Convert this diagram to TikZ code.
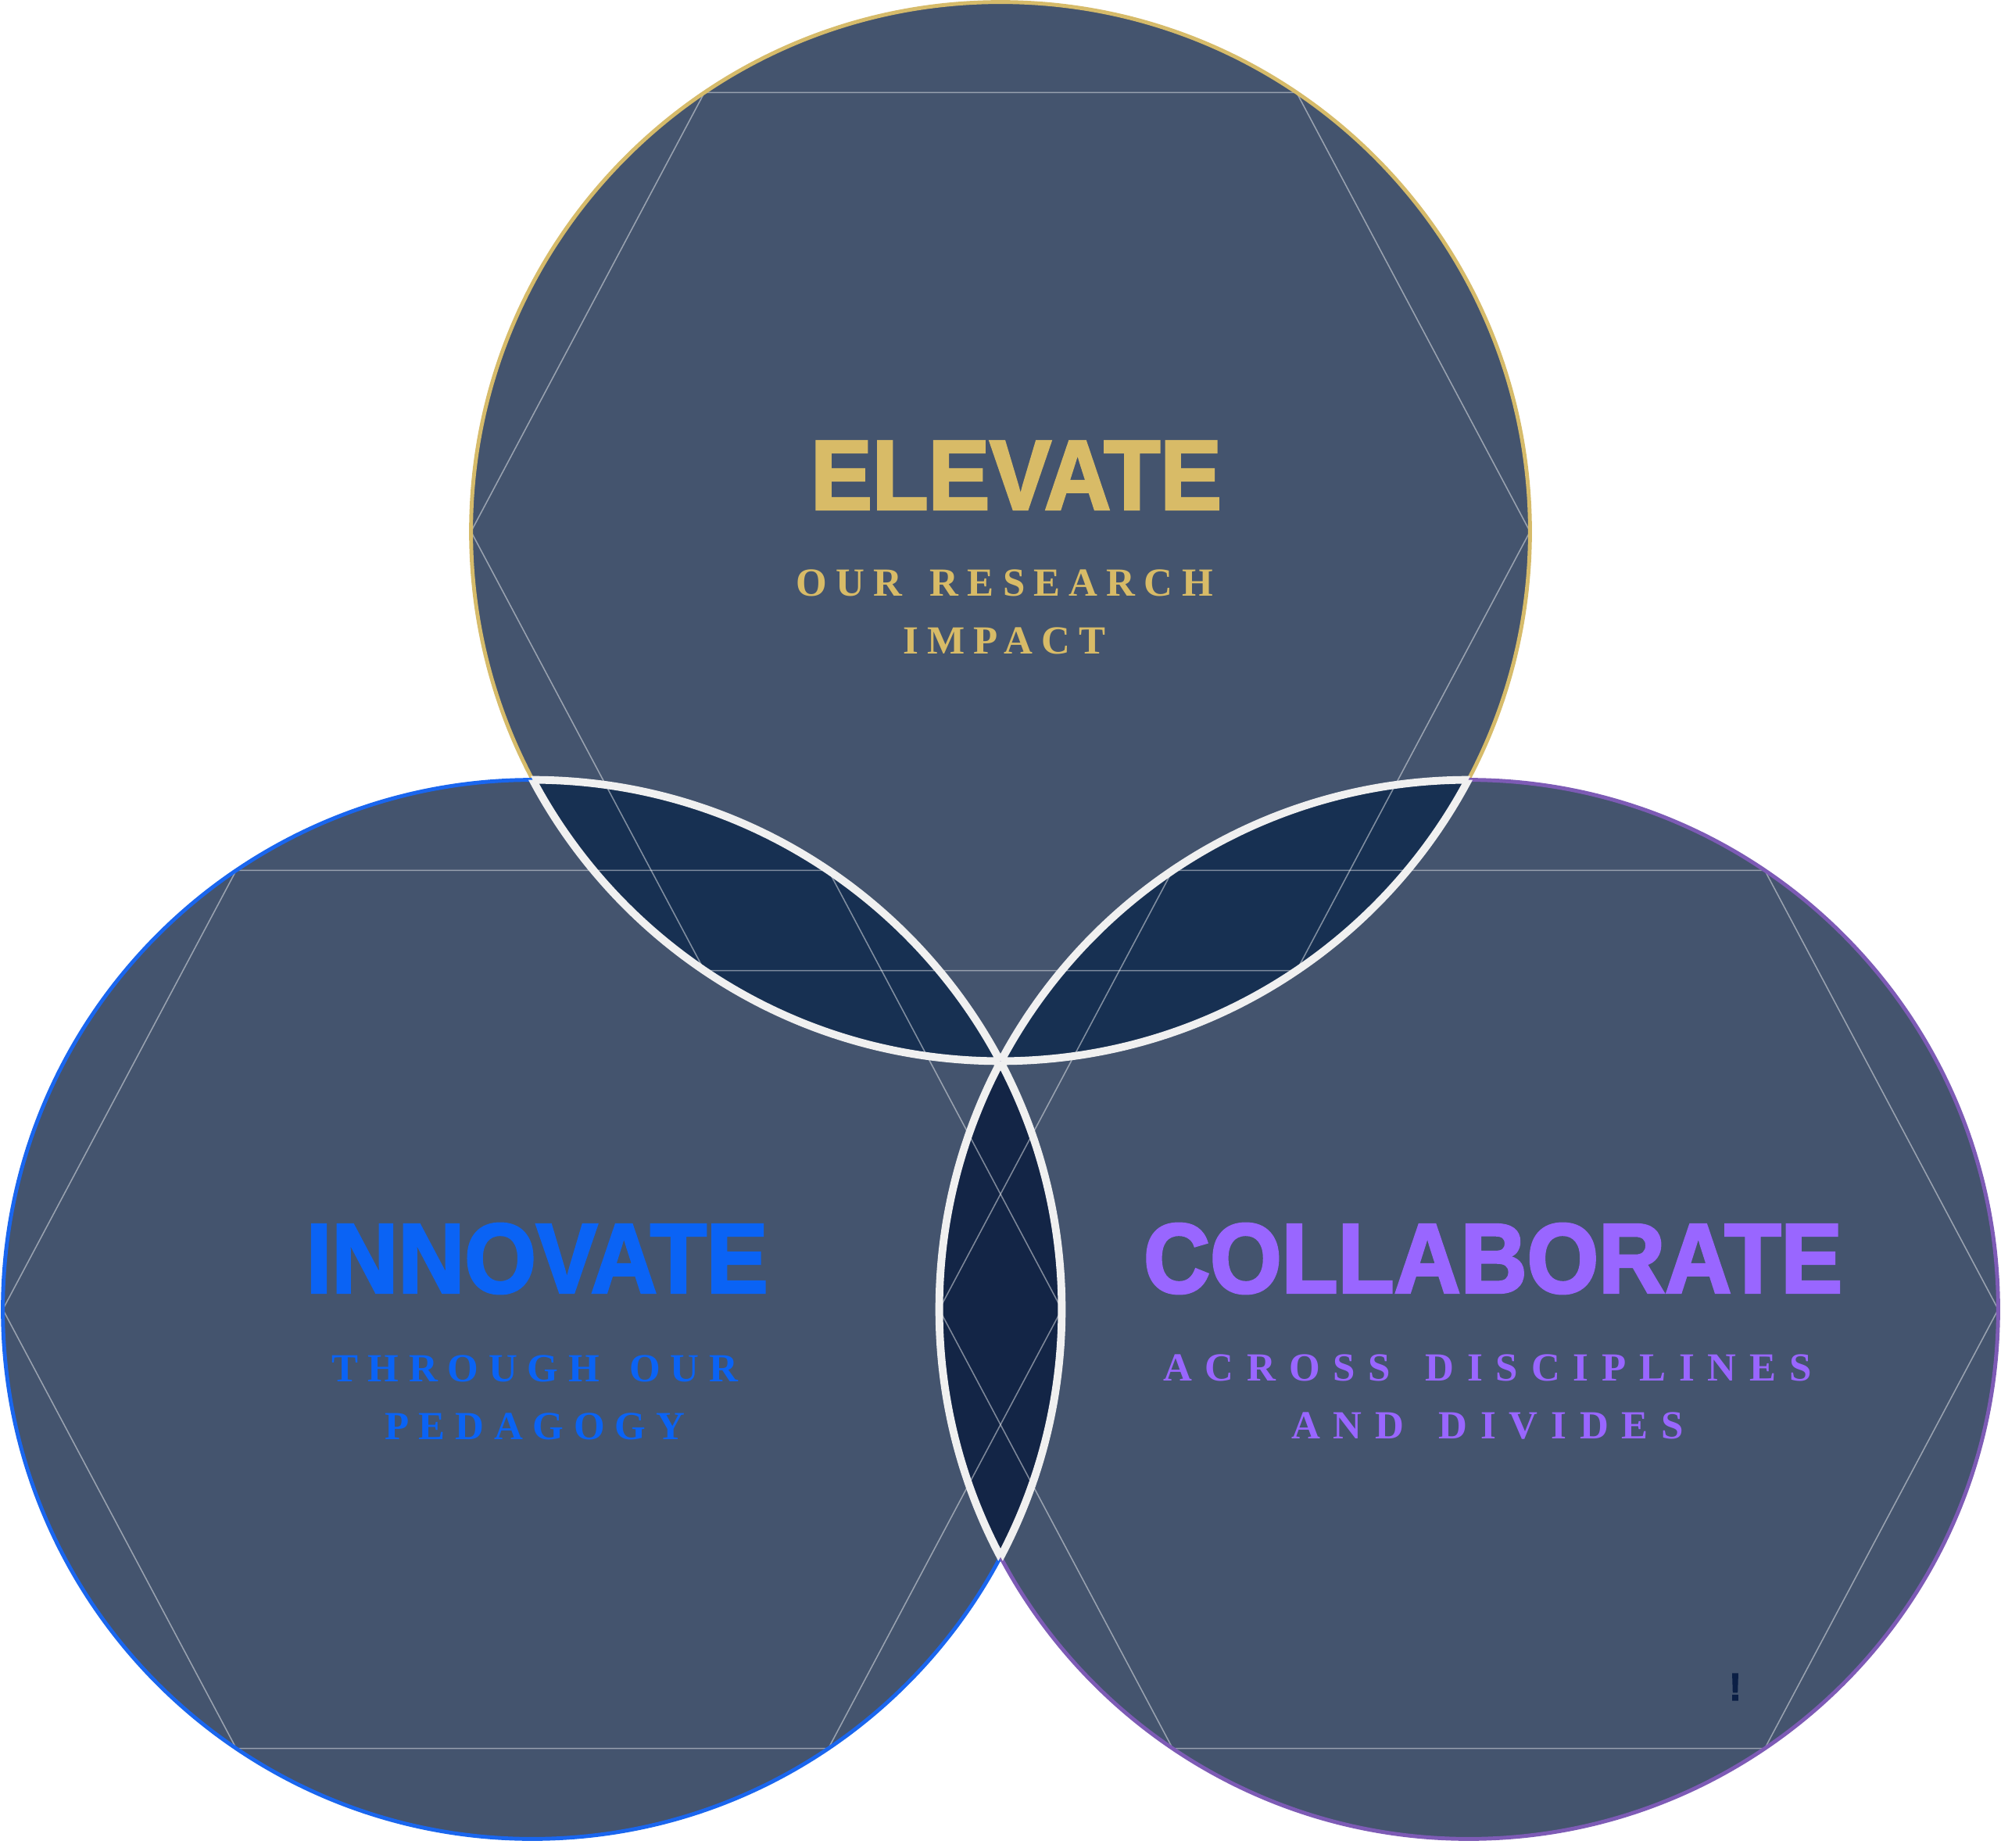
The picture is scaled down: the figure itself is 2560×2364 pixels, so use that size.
\documentclass[tikz,border=0pt]{standalone}
\usepackage{fontspec}
\usetikzlibrary{calc}

\newfontfamily\headfont{Liberation Sans Bold}[FakeStretch=0.93,FakeBold=2.6]
\newfontfamily\subfont{Liberation Serif Bold}[WordSpace=1.5]

\definecolor{slate}{HTML}{44546E}
\definecolor{lensblue}{HTML}{173052}
\definecolor{coreblue}{HTML}{132546}
\definecolor{seamwhite}{HTML}{F0F0F0}
\definecolor{goldrim}{HTML}{D6BB6A}
\definecolor{bluerim}{HTML}{1A66EE}
\definecolor{purplerim}{HTML}{7D5BB5}
\definecolor{goldtext}{HTML}{D8BB67}
\definecolor{bluetext}{HTML}{0A63F5}
\definecolor{purpletext}{HTML}{9966FF}
\definecolor{inkmark}{HTML}{0B1F45}

\def\rad{6.77cm}

\begin{document}
\begin{tikzpicture}[x=0.01cm,y=-0.01cm,
  hexline/.style={white,opacity=0.45,line width=0.45pt},
  rim/.style={draw=#1,line width=1.4pt},
  seam/.style={draw=seamwhite,line width=2.8pt},
  title/.style={font=\headfont\fontsize{36}{36}\selectfont,inner sep=0pt,anchor=center},
  tagline/.style={font=\subfont\addfontfeature{LetterSpace=#1}\fontsize{14.5}{21}\selectfont,align=center,inner sep=0pt,anchor=center}]
  \useasboundingbox (0,0) rectangle (2560,2364);

  \coordinate (T) at (1280,680);
  \coordinate (L) at (681,1675);
  \coordinate (R) at (1879,1675);

  \foreach \c in {T,L,R}
    \fill[slate] (\c) circle (\rad);

  \begin{scope}
    \clip (T) circle (\rad);
    \fill[lensblue] (L) circle (\rad);
    \fill[lensblue] (R) circle (\rad);
  \end{scope}
  \begin{scope}
    \clip (L) circle (\rad);
    \fill[coreblue] (R) circle (\rad);
  \end{scope}

  \foreach \c in {T,L,R}
    \draw[hexline] ($(\c)+(0:\rad)$) -- ($(\c)+(56:\rad)$) -- ($(\c)+(124:\rad)$)
      -- ($(\c)+(180:\rad)$) -- ($(\c)+(236:\rad)$) -- ($(\c)+(304:\rad)$) -- cycle;

  \draw[rim=goldrim] (T) circle (\rad);
  \draw[rim=bluerim] (L) circle (\rad);
  \draw[rim=purplerim] (R) circle (\rad);

  % white seams where the circles overlap
  \begin{scope}
    \clip (T) circle (\rad);
    \draw[seam] (L) circle (\rad) (R) circle (\rad);
  \end{scope}
  \begin{scope}
    \clip (L) circle (\rad);
    \draw[seam] (T) circle (\rad) (R) circle (\rad);
  \end{scope}
  \begin{scope}
    \clip (R) circle (\rad);
    \draw[seam] (T) circle (\rad) (L) circle (\rad);
  \end{scope}

  \node[title,text=goldtext] (elevate) at (1300,608) {ELEVATE};
  \node[tagline=22,text=goldtext] (elevate-tag) at (1285,783) {OUR RESEARCH\\IMPACT};

  \node[title,text=bluetext] (innovate) at (687,1610) {INNOVATE};
  \node[tagline=25,text=bluetext] (innovate-tag) at (684,1788) {THROUGH OUR\\PEDAGOGY};

  \node[title,text=purpletext] (collaborate) at (1910,1610) {COLLABORATE};
  \node[tagline=33,text=purpletext] (collaborate-tag) at (1903,1787) {ACROSS DISCIPLINES\\AND DIVIDES};

  \node[font=\headfont\fontsize{14}{14}\selectfont,text=inkmark] (bang) at (2220,2158) {!};
\end{tikzpicture}
\end{document}
